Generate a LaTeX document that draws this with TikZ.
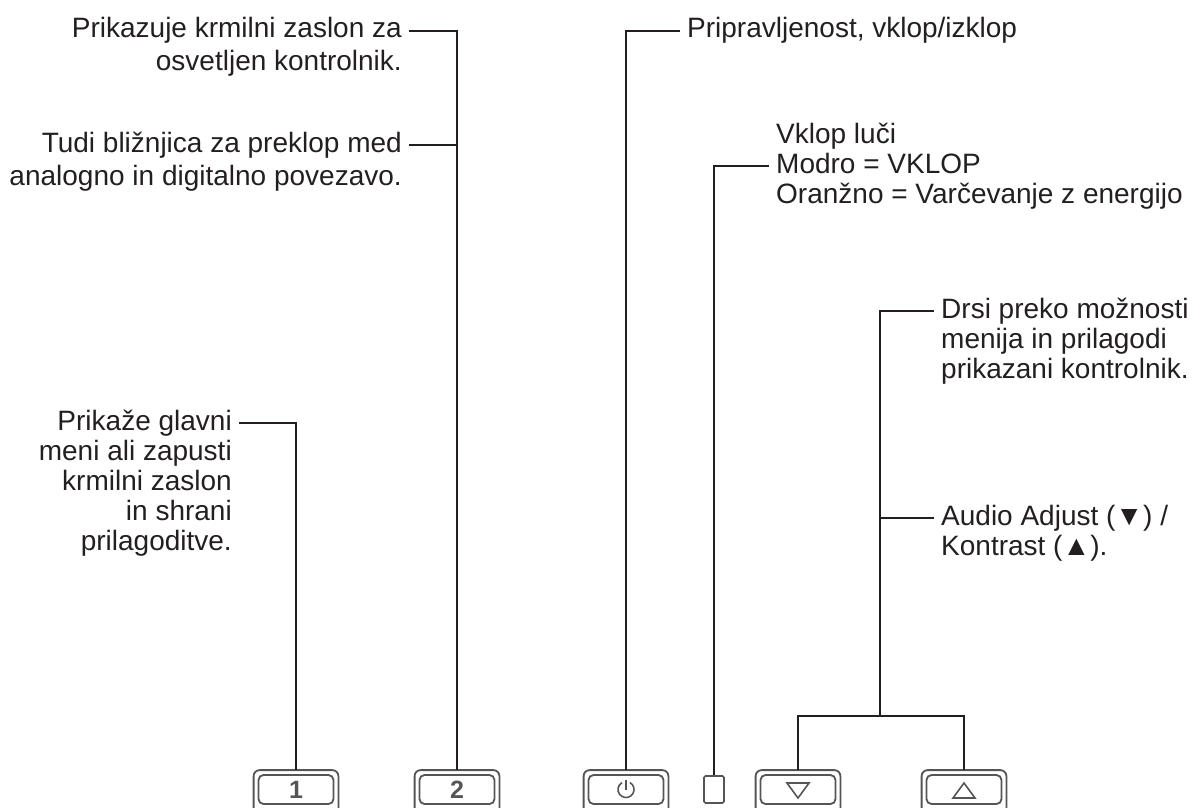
\documentclass[tikz,border=0pt]{standalone}
\usepackage{fontspec}
\setmainfont{Liberation Sans}
\usetikzlibrary{positioning}

\definecolor{ink}{HTML}{231F20}
\definecolor{keygray}{HTML}{555555}

\tikzset{lbl/.style={inner xsep=7pt, inner ysep=0pt, text=ink,
                     font=\fontsize{28}{30}\selectfont},
         widelbl/.style={lbl, font=\fontsize{28}{33}\selectfont},
         key/.style={draw=keygray, line width=1.8pt, rounded corners=5pt,
                     minimum width=75pt, minimum height=29pt, inner sep=0pt,
                     text=keygray, font=\fontsize{25}{25}\selectfont\bfseries},
         frame/.style={draw=keygray, line width=1.8pt, rounded corners=6pt},
         led/.style={draw=keygray, line width=1.6pt, rounded corners=1.5pt,
                     minimum width=20pt, minimum height=27pt, inner sep=0pt},
         lead/.style={draw=ink, line width=1.3pt},
         sym/.style={draw=keygray, line width=1.6pt}}

\begin{document}
\begin{tikzpicture}[x=1pt,y=-1pt]
\useasboundingbox (0,0) rectangle (1194,807);
% keys along the bottom edge
\node[key] (k1) at (296,789.5) {\raisebox{-4pt}{1}};
\node[key] (k2) at (457,789.5) {\raisebox{-4pt}{2}};
\node[key] (kp) at (626,789.5) {};
\node[led] (led) at (714,789.5) {};
\node[key] (kd) at (798,789.5) {};
\node[key] (ku) at (964,789.5) {};
\foreach \k in {k1,k2,kp,kd,ku}
  \draw[frame] ([shift={(-4pt,-5pt)}]\k.south west) -- ([shift={(-4pt,4pt)}]\k.north west)
     -- ([shift={(4pt,4pt)}]\k.north east) -- ([shift={(4pt,-5pt)}]\k.south east);
% key symbols
\draw[sym] ([shift={(60:8pt)}]kp.center) arc[start angle=60, end angle=-240, radius=8pt];
\draw[sym] ([yshift=10pt]kp.center) -- (kp.center);
\draw[sym, line join=miter] ([shift={(-11pt,6.5pt)}]kd.center) -- ([shift={(11pt,6.5pt)}]kd.center)
     -- ([shift={(0pt,-8.5pt)}]kd.center) -- cycle;
\draw[sym, line join=miter] ([shift={(-11pt,-8.5pt)}]ku.center) -- ([shift={(11pt,-8.5pt)}]ku.center)
     -- ([shift={(0pt,6.5pt)}]ku.center) -- cycle;

% labels
\node[widelbl, align=right, anchor=north east] (tA1) at (409,17.5)
  {Prikazuje krmilni zaslon za\\osvetljen kontrolnik.};
\node[widelbl, align=right, anchor=north east] (tA2) at (409,131.5)
  {Tudi bližnjica za preklop med\\analogno in digitalno povezavo.};
\node[lbl, align=left, anchor=north west] (tP) at (680,17.5)
  {Pripravljenost, vklop/izklop};
\node[lbl, align=left, anchor=north west] (tL) at (769,122.5)
  {Vklop luči\\Modro = VKLOP\\Oranžno = Varčevanje z energijo};
\node[lbl, align=right, anchor=north east] (tM) at (239,409.5)
  {Prikaže glavni\\meni ali zapusti\\krmilni zaslon\\in shrani\\prilagoditve.};
\node[lbl, align=left, anchor=north west] (tD) at (934,297.5)
  {Drsi preko možnosti\\menija in prilagodi\\prikazani kontrolnik.};
\node[lbl, align=left, anchor=north west] (tAu) at (934,504.5)
  {Audio Adjust (▼) /\\Kontrast (▲).};

% leader lines
\coordinate (cA1) at (457,31);
\coordinate (cA2) at (457,145);
\coordinate (cP) at (626,31);
\coordinate (cL) at (714,166);
\coordinate (cM) at (296,423);
\coordinate (cJ) at (880,716);
\coordinate (cD) at (880,311);
\coordinate (cAu) at (880,518);
\draw[lead] ([yshift=4pt]k2.north) -- (cA1) -- (tA1.east |- cA1);
\draw[lead] (cA2) -- (tA2.east |- cA2);
\draw[lead] ([yshift=4pt]kp.north) -- (cP) -- (tP.west |- cP);
\draw[lead] (led.north) -- (cL) -- (tL.west |- cL);
\draw[lead] ([yshift=4pt]k1.north) -- (cM) -- (tM.east |- cM);
\draw[lead] ([yshift=4pt]kd.north) |- (cJ) -| ([yshift=4pt]ku.north);
\draw[lead] (cJ) -- (cD) -- (tD.west |- cD);
\draw[lead] (cAu) -- (tAu.west |- cAu);
\end{tikzpicture}
\end{document}
